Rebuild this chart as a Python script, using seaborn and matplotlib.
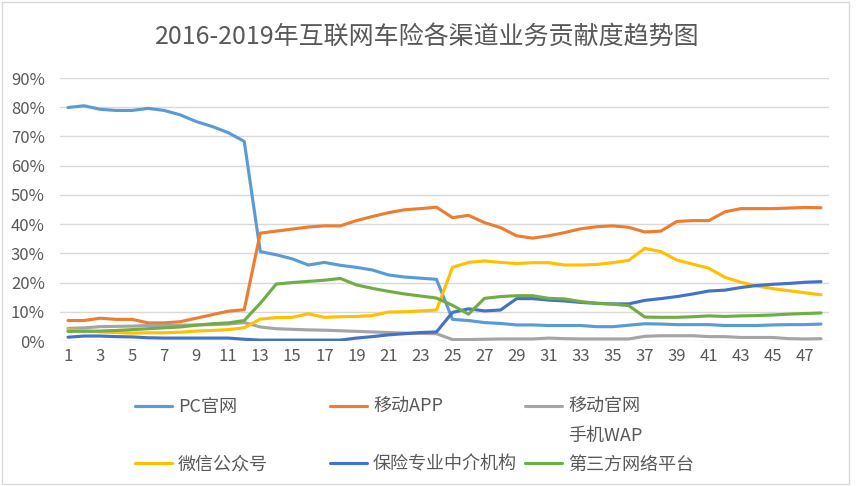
import numpy as np
import pandas as pd
import matplotlib
matplotlib.use('Agg')
import matplotlib.pyplot as plt
from matplotlib.lines import Line2D
from matplotlib.patches import Rectangle
from matplotlib.ticker import PercentFormatter
import seaborn as sns

# 48 periods, values in %
months = list(range(1, 49))

pc_web = [79.9, 80.5, 79.3, 78.9, 78.9, 79.6, 78.9, 77.4, 75.1, 73.4, 71.3, 68.3,
          30.6, 29.5, 28.1, 26.0, 26.9, 25.9, 25.2, 24.3, 22.6, 21.9, 21.5, 21.1,
          7.4, 7.0, 6.3, 6.0, 5.5, 5.5, 5.3, 5.3, 5.3, 4.9, 4.9, 5.4,
          5.9, 5.8, 5.6, 5.6, 5.6, 5.3, 5.3, 5.3, 5.5, 5.6, 5.6, 5.8]
mobile_app = [7.0, 7.0, 7.8, 7.4, 7.4, 6.2, 6.2, 6.6, 7.8, 9.0, 10.2, 10.7,
              36.9, 37.6, 38.3, 39.0, 39.4, 39.4, 41.2, 42.6, 43.9, 44.9, 45.3, 45.8,
              42.2, 43.0, 40.5, 38.8, 36.0, 35.2, 36.0, 37.1, 38.4, 39.1, 39.4, 38.9,
              37.3, 37.6, 40.9, 41.2, 41.2, 44.2, 45.3, 45.3, 45.3, 45.5, 45.7, 45.6]
mobile_wap = [4.3, 4.5, 4.9, 5.0, 5.1, 5.3, 5.3, 5.4, 5.5, 5.6, 5.8, 6.3,
              4.8, 4.2, 4.0, 3.8, 3.7, 3.5, 3.3, 3.1, 2.9, 2.7, 2.6, 2.5,
              0.5, 0.5, 0.6, 0.7, 0.7, 0.7, 1.0, 0.8, 0.7, 0.7, 0.7, 0.7,
              1.6, 1.8, 1.8, 1.8, 1.5, 1.5, 1.2, 1.2, 1.2, 0.8, 0.7, 0.8]
wechat = [3.8, 3.5, 3.1, 2.9, 2.7, 2.8, 2.8, 3.0, 3.4, 3.6, 3.9, 4.5,
          7.5, 8.0, 8.1, 9.3, 8.1, 8.3, 8.4, 8.7, 9.9, 10.0, 10.3, 10.6,
          25.2, 26.9, 27.4, 26.9, 26.5, 26.8, 26.8, 26.0, 26.0, 26.2, 26.8, 27.6,
          31.7, 30.6, 27.7, 26.3, 24.9, 21.8, 20.1, 18.8, 17.9, 17.2, 16.5, 15.8]
broker = [1.3, 1.7, 1.7, 1.5, 1.4, 1.1, 1.0, 1.0, 1.0, 1.0, 1.0, 0.6,
          0.3, 0.3, 0.3, 0.3, 0.3, 0.3, 1.0, 1.5, 2.1, 2.5, 2.9, 3.1,
          9.8, 11.0, 10.3, 10.6, 14.5, 14.5, 14.0, 13.7, 13.2, 12.9, 12.7, 12.7,
          13.9, 14.5, 15.2, 16.1, 17.1, 17.4, 18.3, 19.0, 19.4, 19.7, 20.1, 20.3]
third_party = [3.3, 3.3, 3.4, 3.6, 3.9, 4.2, 4.5, 4.8, 5.4, 5.9, 6.2, 7.0,
               12.9, 19.5, 20.0, 20.4, 20.8, 21.4, 19.2, 18.0, 17.0, 16.1, 15.4, 14.7,
               12.2, 9.2, 14.6, 15.2, 15.5, 15.5, 14.6, 14.4, 13.5, 12.9, 12.6, 12.1,
               8.2, 8.1, 8.1, 8.3, 8.6, 8.4, 8.6, 8.7, 8.9, 9.2, 9.4, 9.6]

channels = ['PC官网', '移动APP', '移动官网手机WAP', '微信公众号', '保险专业中介机构', '第三方网络平台']
colors = ['#5B9BD5', '#ED7D31', '#A5A5A5', '#FFC000', '#4472C4', '#70AD47']

sns.set_style('white')
plt.rcParams['font.family'] = ['Noto Sans CJK SC', 'DejaVu Sans']

df = pd.DataFrame({
    '月份': months * 6,
    '渠道': np.repeat(channels, len(months)),
    '占比': pc_web + mobile_app + mobile_wap + wechat + broker + third_party,
})

W, H = 856, 486
fig = plt.figure(figsize=(W / 100, H / 100), dpi=100)
ax = fig.add_axes([60 / W, 1 - 341 / H, (829 - 60) / W, (341 - 78) / H])

sns.lineplot(data=df, x='月份', y='占比', hue='渠道', hue_order=channels,
             palette=colors, linewidth=2.25, legend=False, ax=ax)

ax.set_xlim(0.5, 48.5)
ax.set_ylim(0, 90)
ax.set_yticks(range(0, 91, 10))
ax.yaxis.set_major_formatter(PercentFormatter(decimals=0))
ax.set_xticks(range(1, 48, 2))
ax.set_xlabel('')
ax.set_ylabel('')
ax.grid(axis='y', color='#D9D9D9', linewidth=1)
ax.set_axisbelow(True)
for s in ax.spines.values():
    s.set_visible(False)
ax.tick_params(axis='both', length=0, labelsize=12, labelcolor='#595959')
ax.tick_params(axis='y', pad=11)
ax.tick_params(axis='x', pad=5)

fig.text(427 / W, 1 - 38 / H, '2016-2019年互联网车险各渠道业务贡献度趋势图',
         ha='center', va='center', fontsize=18, color='#595959')

# outer frame
fig.patches.append(Rectangle((2 / W, 2 / H), 847 / W, 482 / H, transform=fig.transFigure,
                             fill=False, edgecolor='#D9D9D9', linewidth=1))

# legend, three columns laid out like the original
handles = [Line2D([], [], color=c, linewidth=2.25) for c in colors]
blank = Line2D([], [], color='none')
columns = [
    ([handles[0], blank, handles[3]], ['PC官网', ' ', '微信公众号']),
    ([handles[1], blank, handles[4]], ['移动APP', ' ', '保险专业中介机构']),
    ([handles[2], blank, handles[5]], ['移动官网', '手机WAP', '第三方网络平台']),
]
for (h, l), x0 in zip(columns, [135, 330, 525]):
    fig.legend(h, l, loc='upper left', bbox_to_anchor=(x0 / W, 1 - 398 / H),
               frameon=False, fontsize=13, labelcolor='#595959',
               handlelength=2.05, handletextpad=0.33, borderpad=0,
               borderaxespad=0, labelspacing=0.6)

fig.savefig('out.png', dpi=100)
